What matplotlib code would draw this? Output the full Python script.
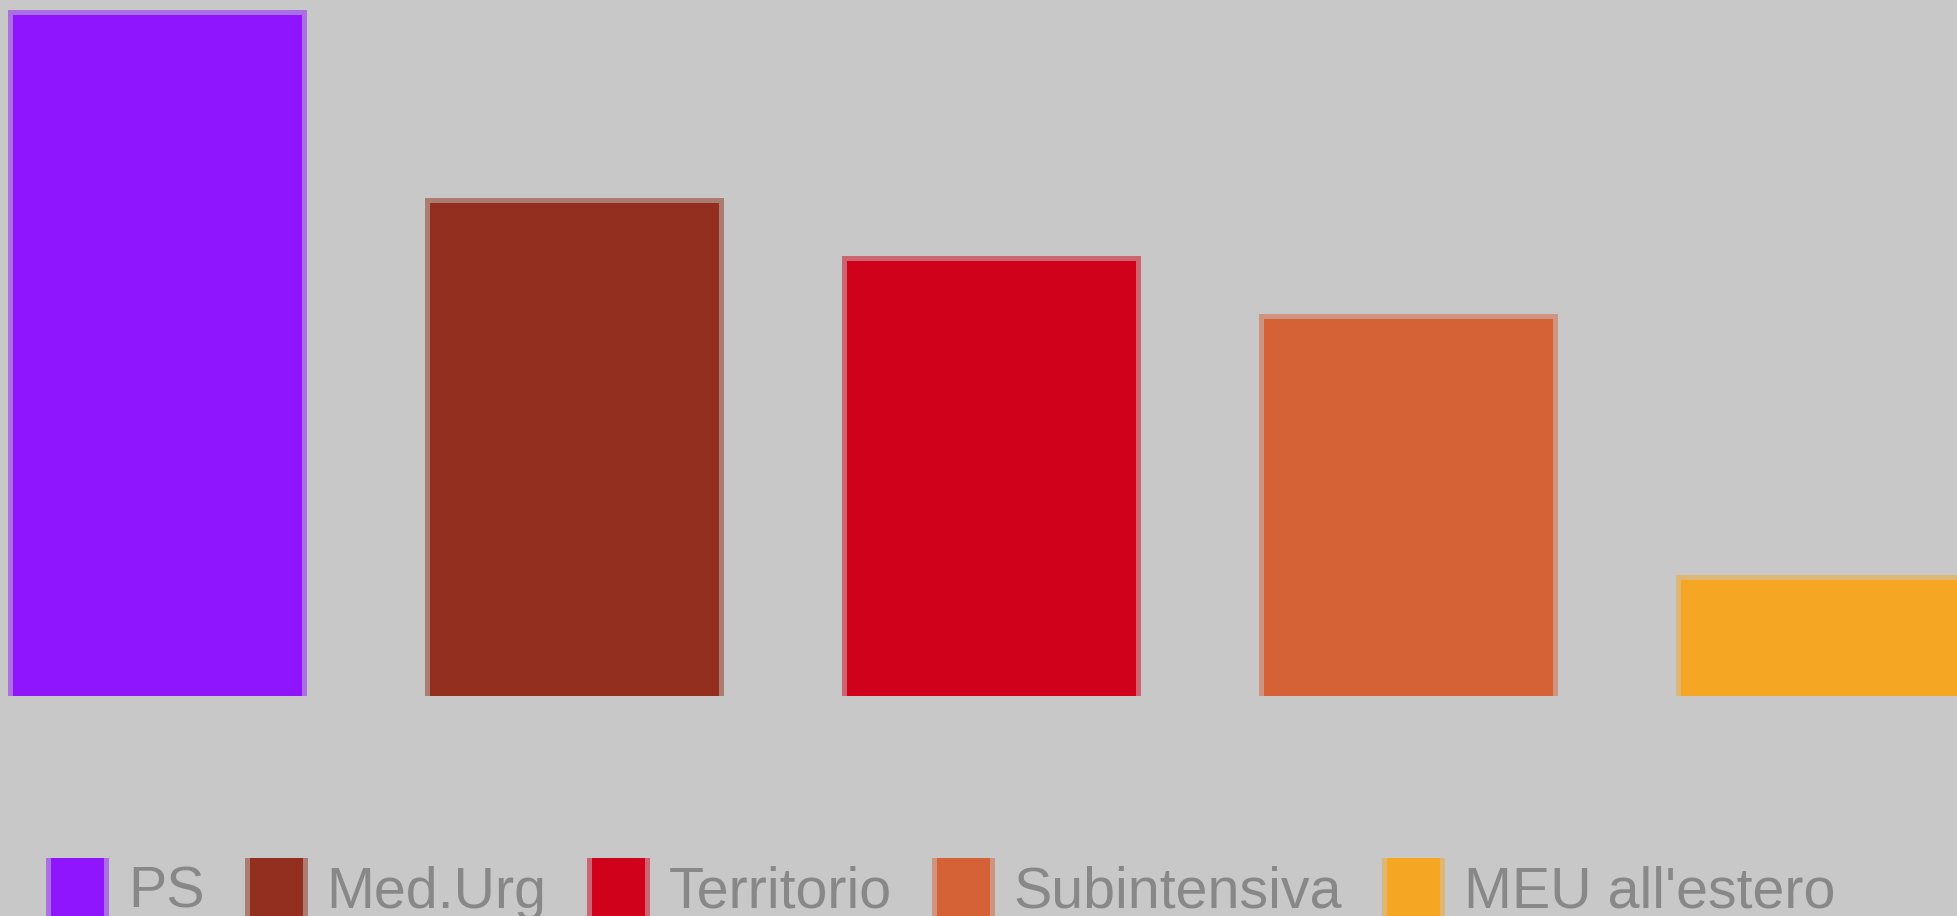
import matplotlib
matplotlib.use("Agg")
import matplotlib.pyplot as plt
from matplotlib.patches import Rectangle

categories = ["PS", "Med.Urg", "Territorio", "Subintensiva", "MEU all'estero"]
values = [47, 34, 30, 26, 8]
colors = ["#8F15FE", "#922F1E", "#D0021B", "#D56237", "#F5A623"]
bg = "#C8C8C8"

W, H = 1957, 916
fig = plt.figure(figsize=(W / 100, H / 100), dpi=100)
fig.patch.set_facecolor(bg)

fam, fsize = "Liberation Sans", 41.3

# plot area: baseline at y=696 px, top of figure at 0 px
base_px = 696
ax = fig.add_axes([0, 1 - base_px / H, 1, base_px / H])
ax.set_facecolor(bg)
px_per_unit_x = 417.0
px_per_unit_y = 681.0 / values[0]
ax.set_xlim(-157.5 / px_per_unit_x, (W - 157.5) / px_per_unit_x)
ax.set_ylim(0, base_px / px_per_unit_y)
ax.axis("off")

x = list(range(len(categories)))
bw = 0.693
band_x = 5 / px_per_unit_x
band_y = 5 / px_per_unit_y
ax.bar(x, [v + band_y for v in values], width=bw + 2 * band_x, color=colors,
       alpha=0.5, linewidth=0, zorder=1)
ax.bar(x, values, width=bw, color=colors, linewidth=0, zorder=2)

# legend drawn as a flowing row (Chart.js style)
renderer = fig.canvas.get_renderer()
def fx(px):
    return px / W
def fy(px):
    return 1 - px / H

cur = 46
box_w, box_top, box_h, border = 63, 858, 80, 5
for lab, col in zip(categories, colors):
    fig.patches.append(Rectangle((fx(cur), fy(box_top + box_h)), box_w / W, box_h / H,
                                 transform=fig.transFigure, facecolor=col, alpha=0.5,
                                 linewidth=0))
    fig.patches.append(Rectangle((fx(cur + border), fy(box_top + box_h)),
                                 (box_w - 2 * border) / W, box_h / H,
                                 transform=fig.transFigure, facecolor=col, linewidth=0))
    t = fig.text(fx(cur + box_w + 19), fy(908), lab, color="#888888",
                 fontsize=fsize, family=fam, va="baseline", ha="left")
    tw = t.get_window_extent(renderer).width
    cur = cur + box_w + 19 + tw + 40

fig.savefig("out.png", dpi=100, facecolor=bg)
